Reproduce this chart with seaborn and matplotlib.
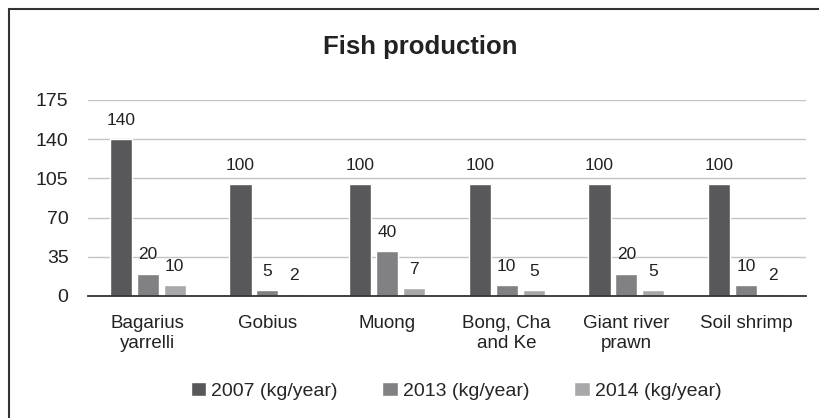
import pandas as pd
import matplotlib
matplotlib.use('Agg')
import matplotlib.pyplot as plt
import seaborn as sns
from matplotlib.patches import Rectangle

# data
species = ['Bagarius\nyarrelli', 'Gobius', 'Muong', 'Bong, Cha\nand Ke', 'Giant river\nprawn', 'Soil shrimp']
y2007 = [140, 100, 100, 100, 100, 100]
y2013 = [20, 5, 40, 10, 20, 10]
y2014 = [10, 2, 7, 5, 5, 2]
series = ['2007 (kg/year)', '2013 (kg/year)', '2014 (kg/year)']
yticks = [0, 35, 70, 105, 140, 175]

# long format for seaborn
rows = []
for name, vals in zip(series, [y2007, y2013, y2014]):
    for sp, v in zip(species, vals):
        rows.append({'species': sp, 'value': v, 'year': name})
df = pd.DataFrame(rows)

sns.set_style('white')
plt.rcParams['font.family'] = ['Liberation Sans', 'DejaVu Sans']

fig = plt.figure(figsize=(8.19, 4.18), dpi=100)
ax = fig.add_axes([0.1074, 0.2919, 0.8766, 0.4689])

colors = ['#58585a', '#818184', '#a8a8aa']
sns.barplot(data=df, x='species', y='value', hue='year', palette=colors,
            width=0.675, gap=0.18, ax=ax, saturation=1)

for c in ax.containers:
    ax.bar_label(c, padding=8, fontsize=12.5, color='#222222')

ax.set_ylim(0, 175)
ax.set_yticks(yticks)
ax.set_xlim(-0.5, 5.5)
ax.yaxis.grid(True, color='#c4c4c4', linewidth=1)
ax.set_axisbelow(True)
ax.set_xlabel('')
ax.set_ylabel('')
for s in ['left', 'right', 'top']:
    ax.spines[s].set_visible(False)
ax.spines['bottom'].set_color('#333333')
ax.spines['bottom'].set_linewidth(1.3)
ax.tick_params(axis='y', length=0, labelsize=14, pad=14, colors='#222222')
ax.tick_params(axis='x', length=0, labelsize=13.5, pad=14, colors='#222222')

ax.legend(loc='center', bbox_to_anchor=(456 / 819, 0.064), bbox_transform=fig.transFigure,
          ncol=3, frameon=False, fontsize=14, handlelength=0.8, handleheight=0.7,
          handletextpad=0.25, columnspacing=2.3)

fig.text(420 / 819, 0.887, 'Fish production', ha='center', va='center',
         fontsize=18.5, fontweight='bold', color='#222222')

# outer frame (cut off at right/bottom)
fig.patches.append(Rectangle((9 / 819, -0.1), 1.2, 1 - 9 / 418 + 0.1,
                             transform=fig.transFigure, fill=False,
                             edgecolor='#333333', linewidth=1.5))

fig.savefig('out.png', dpi=100)
